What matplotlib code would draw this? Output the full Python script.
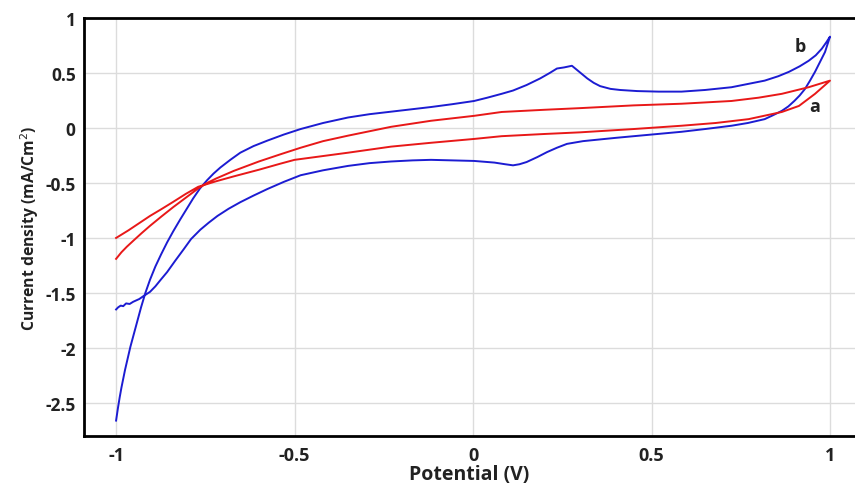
import matplotlib.pyplot as plt
import numpy as np

# Curve b: steep branch up from -1 V, anodic sweep to +1 V, then back along the lower branch
b_potential = [-1.0, -0.995, -0.99, -0.985, -0.98, -0.975, -0.97, -0.96, -0.95, -0.94,
               -0.93, -0.918, -0.905, -0.89, -0.874, -0.857, -0.84, -0.82, -0.80, -0.784,
               -0.765, -0.745, -0.727, -0.708, -0.68, -0.652, -0.615, -0.576, -0.53, -0.483,
               -0.42, -0.35, -0.29, -0.23, -0.17, -0.118, -0.06, 0.003, 0.04, 0.08,
               0.112, 0.15, 0.188, 0.215, 0.235, 0.255, 0.277, 0.29, 0.305, 0.32,
               0.338, 0.356, 0.385, 0.412, 0.46, 0.52, 0.584, 0.65, 0.724, 0.77,
               0.817, 0.855, 0.885, 0.915, 0.94, 0.96, 0.977, 0.99, 1.0,
               0.986, 0.972, 0.958, 0.944, 0.93, 0.915, 0.90, 0.883, 0.865, 0.84,
               0.817, 0.77, 0.724, 0.65, 0.584, 0.5, 0.4, 0.308, 0.263, 0.235,
               0.207, 0.18, 0.15, 0.13, 0.112, 0.09, 0.06, 0.003, -0.06, -0.118,
               -0.17, -0.23, -0.29, -0.35, -0.42, -0.483, -0.53, -0.576, -0.615, -0.652,
               -0.685, -0.716, -0.74, -0.764, -0.79, -0.81, -0.835, -0.857, -0.875, -0.89,
               -0.905, -0.924, -0.935, -0.945, -0.952, -0.962, -0.972, -0.98, -0.987, -0.994,
               -1.0]
b_current = [-2.66, -2.55, -2.45, -2.36, -2.28, -2.20, -2.13, -1.99, -1.87, -1.75,
             -1.63, -1.50, -1.38, -1.26, -1.15, -1.04, -0.94, -0.83, -0.725, -0.64,
             -0.55, -0.475, -0.415, -0.36, -0.29, -0.225, -0.165, -0.115, -0.06, -0.01,
             0.045, 0.095, 0.125, 0.148, 0.17, 0.19, 0.215, 0.245, 0.275, 0.31,
             0.34, 0.39, 0.45, 0.50, 0.54, 0.55, 0.565, 0.53, 0.49, 0.45,
             0.41, 0.38, 0.355, 0.345, 0.335, 0.33, 0.33, 0.345, 0.37, 0.40,
             0.43, 0.47, 0.51, 0.56, 0.61, 0.66, 0.72, 0.78, 0.83,
             0.69, 0.60, 0.51, 0.43, 0.355, 0.295, 0.245, 0.195, 0.155, 0.115,
             0.08, 0.045, 0.02, -0.01, -0.035, -0.06, -0.09, -0.12, -0.145, -0.18,
             -0.22, -0.265, -0.31, -0.33, -0.34, -0.33, -0.315, -0.30, -0.295, -0.29,
             -0.295, -0.305, -0.32, -0.345, -0.385, -0.43, -0.49, -0.555, -0.615, -0.675,
             -0.735, -0.80, -0.86, -0.925, -1.01, -1.10, -1.21, -1.31, -1.38, -1.44,
             -1.49, -1.53, -1.555, -1.57, -1.58, -1.60, -1.595, -1.62, -1.615, -1.63,
             -1.65]

# Curve a: from -1 V up to +1 V and back
a_potential = [-1.0, -0.985, -0.97, -0.95, -0.928, -0.905, -0.873, -0.84, -0.805, -0.77,
               -0.745, -0.72, -0.67, -0.6, -0.54, -0.483, -0.42, -0.35, -0.29, -0.23,
               -0.118, 0.003, 0.08, 0.2, 0.3, 0.45, 0.584, 0.724, 0.8, 0.865,
               0.94, 1.0,
               0.958, 0.913, 0.865, 0.772, 0.68, 0.584, 0.45, 0.3, 0.2, 0.08,
               0.003, -0.118, -0.23, -0.35, -0.5, -0.54, -0.6, -0.67, -0.72, -0.77,
               -0.805, -0.84, -0.873, -0.905, -0.935, -0.965, -0.985, -1.0]
a_current = [-1.19, -1.13, -1.08, -1.02, -0.955, -0.89, -0.805, -0.72, -0.635, -0.55,
             -0.50, -0.46, -0.39, -0.305, -0.24, -0.18, -0.12, -0.07, -0.03, 0.01,
             0.065, 0.11, 0.145, 0.165, 0.18, 0.205, 0.22, 0.245, 0.275, 0.31,
             0.37, 0.43,
             0.31, 0.20, 0.145, 0.08, 0.045, 0.02, -0.01, -0.04, -0.055, -0.075,
             -0.10, -0.135, -0.17, -0.225, -0.29, -0.325, -0.38, -0.44, -0.485, -0.535,
             -0.60, -0.672, -0.738, -0.80, -0.865, -0.93, -0.97, -1.0]

xticks = [-1, -0.5, 0, 0.5, 1]
xticklabels = ['-1', '-0.5', '0', '0.5', '1']
yticks = [-2.5, -2, -1.5, -1, -0.5, 0, 0.5, 1]
yticklabels = ['-2.5', '-2', '-1.5', '-1', '-0.5', '0', '0.5', '1']

plt.rcParams['font.family'] = ['Open Sans', 'DejaVu Sans']

fig = plt.figure(figsize=(8.55, 4.85), dpi=100)
ax = fig.add_axes([0.0982, 0.099, 0.9018, 0.862])

ax.plot(b_potential, b_current, color='#1c1cd2', lw=1.4)
ax.plot(a_potential, a_current, color='#e81818', lw=1.4)

ax.text(0.916, 0.745, 'b', fontsize=13, fontweight='bold', ha='center', va='center',
        color='#222222')
ax.text(0.958, 0.2, 'a', fontsize=13, fontweight='bold', ha='center', va='center',
        color='#222222')

ax.set_xlim(-1.09, 1.07)
ax.set_ylim(-2.8, 1.0)
ax.set_xticks(xticks)
ax.set_xticklabels(xticklabels)
ax.set_yticks(yticks)
ax.set_yticklabels(yticklabels)
ax.tick_params(axis='x', length=0, pad=7, labelsize=13, labelcolor='#222222')
ax.tick_params(axis='y', length=0, pad=6, labelsize=12.5, labelcolor='#222222')
for lbl in ax.get_xticklabels() + ax.get_yticklabels():
    lbl.set_fontweight('bold')

ax.set_axisbelow(True)
ax.grid(color='#dcdcdc', linewidth=1.0)

for side in ['left', 'top', 'bottom']:
    ax.spines[side].set_linewidth(2.0)
    ax.spines[side].set_color('black')
ax.spines['right'].set_visible(False)

ax.set_xlabel('Potential (V)', fontsize=14, fontweight='bold', labelpad=0,
              color='#222222')
ax.set_ylabel('Current density (mA/Cm$^2$)', fontsize=11.3, fontweight='bold',
              labelpad=3, color='#222222')

fig.savefig('out.png', dpi=100)
